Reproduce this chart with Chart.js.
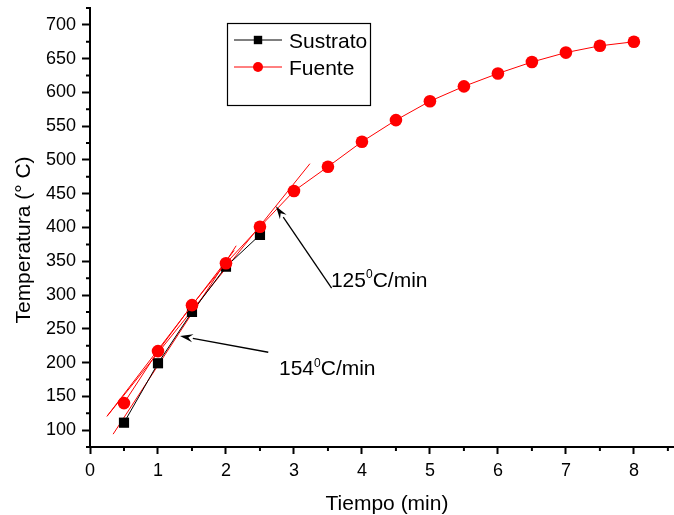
<!DOCTYPE html>
<html><head><meta charset="utf-8">
<script src="https://cdn.jsdelivr.net/npm/chart.js@4/dist/chart.umd.min.js"></script>
<style>html,body{margin:0;padding:0;background:#fff}canvas{display:block}</style>
</head><body>
<canvas id="c" width="674" height="515"></canvas>
<script>
// ---- data ----
const fuenteTime = [0.5, 1, 1.5, 2, 2.5, 3, 3.5, 4, 4.5, 5, 5.5, 6, 6.5, 7, 7.5, 8];
const fuenteTemp = [140, 217, 285, 347, 401, 454, 490, 527, 559, 587, 609, 628, 645, 659, 669, 675];
const sustratoTime = [0.5, 1, 1.5, 2, 2.5];
const sustratoTemp = [111, 199, 275, 342, 389];
const tangent125Time = [0.25, 3.235];
const tangent125Temp = [120.5, 494.5];
const tangent154Time = [0.34, 2.15];
const tangent154Temp = [94, 373];
const tangentFitTime = [0.25, 2.12];
const tangentFitTemp = [120.5, 366];
const xTickValues = [0, 1, 2, 3, 4, 5, 6, 7, 8];
const yTickValues = [100, 150, 200, 250, 300, 350, 400, 450, 500, 550, 600, 650, 700];
const seriesNames = ['Sustrato', 'Fuente'];
const xTitle = 'Tiempo (min)';
const yTitle = 'Temperatura (° C)';
const annotationTexts = [['154', '0', 'C/min'], ['125', '0', 'C/min']];

const FONT = '"Liberation Sans", Arial, Helvetica, sans-serif';
const pts = (xs, ys) => xs.map((x, i) => ({x: x, y: ys[i]}));

// annotation anchors (data units)
const annotations = [
  {text: annotationTexts[0], tx: 2.78, ty: 181.6, from: [2.622, 215.3], to: [1.324, 239.5]},
  {text: annotationTexts[1], tx: 3.544, ty: 312.6, from: [3.554, 310.2], to: [2.735, 431.3]}
];

const decor = {
  id: 'decor',
  afterDatasetsDraw(chart) {
    const ctx = chart.ctx, xs = chart.scales.x, ys = chart.scales.y, ca = chart.chartArea;
    ctx.save();
    // minor ticks
    ctx.strokeStyle = '#000'; ctx.lineWidth = 2;
    ctx.beginPath();
    for (let v = xTickValues[0] + 0.5; v <= xs.max + 1e-9; v += 1) {
      const px = xs.getPixelForValue(v);
      ctx.moveTo(px, ca.bottom); ctx.lineTo(px, ca.bottom + 4);
    }
    for (let v = yTickValues[0] - 25; v <= ys.max + 1e-9; v += 50) {
      const py = ys.getPixelForValue(v);
      ctx.moveTo(ca.left, py); ctx.lineTo(ca.left - 4, py);
    }
    ctx.stroke();

    // arrows + texts
    ctx.fillStyle = '#000'; ctx.strokeStyle = '#000'; ctx.lineWidth = 1.3;
    annotations.forEach(a => {
      const x1 = xs.getPixelForValue(a.from[0]), y1 = ys.getPixelForValue(a.from[1]);
      const x2 = xs.getPixelForValue(a.to[0]), y2 = ys.getPixelForValue(a.to[1]);
      const ang = Math.atan2(y2 - y1, x2 - x1);
      const hl = 13, hw = 4;
      const bx = x2 - hl * Math.cos(ang), by = y2 - hl * Math.sin(ang);
      ctx.beginPath(); ctx.moveTo(x1, y1); ctx.lineTo(bx, by); ctx.stroke();
      ctx.beginPath();
      ctx.moveTo(x2, y2);
      ctx.lineTo(bx + hw * Math.sin(ang), by - hw * Math.cos(ang));
      ctx.lineTo(bx + 0.35 * hl * Math.cos(ang), by + 0.35 * hl * Math.sin(ang));
      ctx.lineTo(bx - hw * Math.sin(ang), by + hw * Math.cos(ang));
      ctx.closePath(); ctx.fill();
      // text
      let tx = xs.getPixelForValue(a.tx);
      const ty = ys.getPixelForValue(a.ty);
      ctx.textAlign = 'left'; ctx.textBaseline = 'alphabetic';
      ctx.font = '21px ' + FONT;
      ctx.fillText(a.text[0], tx, ty); tx += ctx.measureText(a.text[0]).width;
      ctx.font = '12px ' + FONT;
      ctx.fillText(a.text[1], tx, ty - 8.5); tx += ctx.measureText(a.text[1]).width;
      ctx.font = '21px ' + FONT;
      ctx.fillText(a.text[2], tx, ty);
    });

    // legend
    const lx = 227.5, ly = 23.5, lw = 143, lh = 82;
    ctx.fillStyle = '#fff'; ctx.fillRect(lx, ly, lw, lh);
    ctx.strokeStyle = '#000'; ctx.lineWidth = 1.2; ctx.strokeRect(lx, ly, lw, lh);
    const rows = [
      {name: seriesNames[0], color: '#000', y: 40, style: 'rect'},
      {name: seriesNames[1], color: '#ff0000', y: 67, style: 'circle'}
    ];
    rows.forEach(r => {
      ctx.strokeStyle = r.color; ctx.lineWidth = 1;
      ctx.beginPath(); ctx.moveTo(234, r.y); ctx.lineTo(282, r.y); ctx.stroke();
      ctx.fillStyle = r.color;
      if (r.style === 'rect') ctx.fillRect(258 - 4.2, r.y - 4.2, 8.4, 8.4);
      else { ctx.beginPath(); ctx.arc(258, r.y, 5, 0, Math.PI * 2); ctx.fill(); }
      ctx.fillStyle = '#000'; ctx.font = '21px ' + FONT;
      ctx.textAlign = 'left'; ctx.textBaseline = 'alphabetic';
      ctx.fillText(r.name, 289, r.y + 7.5);
    });

    // axis titles
    ctx.fillStyle = '#000'; ctx.font = '21px ' + FONT;
    ctx.textAlign = 'center'; ctx.textBaseline = 'alphabetic';
    ctx.fillText(xTitle, 387, 510);
    ctx.translate(30, 240); ctx.rotate(-Math.PI / 2);
    ctx.fillText(yTitle, 0, 0);
    ctx.restore();
  }
};

const tickCommon = {color: '#000', font: {family: FONT, size: 18}, padding: 6, autoSkip: false, maxRotation: 0};

new Chart(document.getElementById('c'), {
  type: 'scatter',
  data: {
    datasets: [
      {label: seriesNames[1], data: pts(fuenteTime, fuenteTemp), showLine: true, borderColor: '#ff0000', backgroundColor: '#ff0000',
       borderWidth: 1, pointStyle: 'circle', pointRadius: 6.3, pointBorderWidth: 0, order: 0},
      {label: seriesNames[0], data: pts(sustratoTime, sustratoTemp), showLine: true, borderColor: '#000', backgroundColor: '#000',
       borderWidth: 1, pointStyle: 'rect', pointRadius: 7.2, pointBorderWidth: 0, order: 1},
      {label: 't125', data: pts(tangent125Time, tangent125Temp), showLine: true, borderColor: '#ff0000', borderWidth: 1, pointRadius: 0, order: 2},
      {label: 't154', data: pts(tangent154Time, tangent154Temp), showLine: true, borderColor: '#ff0000', borderWidth: 1, pointRadius: 0, order: 2},
      {label: 'tfit', data: pts(tangentFitTime, tangentFitTemp), showLine: true, borderColor: '#ff0000', borderWidth: 1, pointRadius: 0, order: 2}
    ]
  },
  options: {
    responsive: false, animation: false, events: [],
    layout: {autoPadding: false, padding: {top: 8, right: 0, left: 0, bottom: 0}},
    plugins: {legend: {display: false}, tooltip: {enabled: false}},
    scales: {
      x: {
        type: 'linear', min: 0, max: 8.59,
        afterBuildTicks: s => { s.ticks = xTickValues.map(v => ({value: v})); },
        afterFit: s => { s.height = 68; s.paddingLeft = 0; s.paddingRight = 0; },
        grid: {display: true, drawOnChartArea: false, drawTicks: true, tickLength: 7, tickWidth: 2, tickColor: '#000'},
        border: {display: true, color: '#000', width: 2},
        ticks: tickCommon
      },
      y: {
        type: 'linear', min: 75, max: 725,
        afterBuildTicks: s => { s.ticks = yTickValues.map(v => ({value: v})); },
        afterFit: s => { s.width = 90; s.paddingTop = 0; s.paddingBottom = 0; },
        grid: {display: true, drawOnChartArea: false, drawTicks: true, tickLength: 8, tickWidth: 2, tickColor: '#000'},
        border: {display: true, color: '#000', width: 2},
        ticks: tickCommon
      }
    }
  },
  plugins: [decor]
});
</script>
</body></html>
